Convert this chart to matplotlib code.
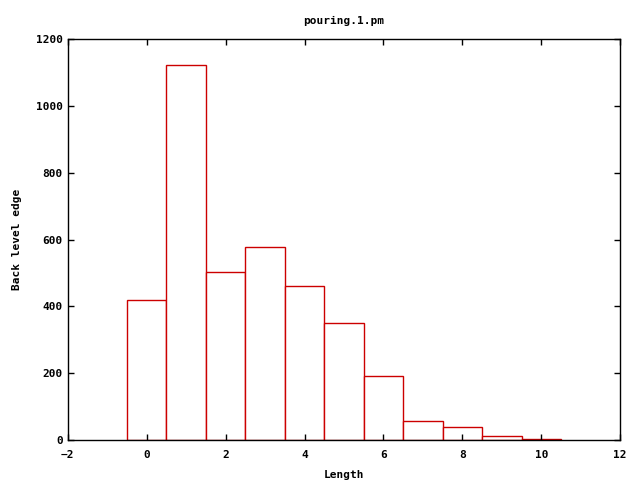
import numpy as np
import matplotlib.pyplot as plt

plt.rcParams['font.family'] = 'DejaVu Sans Mono'
plt.rcParams['font.weight'] = 'bold'
plt.rcParams['font.size'] = 8

lengths = [0, 1, 2, 3, 4, 5, 6, 7, 8, 9, 10]
counts = [419, 1121, 502, 579, 460, 350, 191, 57, 39, 11, 3]

fig = plt.figure(figsize=(6.4, 4.8), dpi=100)
ax = fig.add_axes([0.106, 0.083, 0.863, 0.836])
ax.bar(lengths, counts, width=1.0, facecolor='white', edgecolor='#cc0000', linewidth=1)

ax.set_xlim(-2, 12)
ax.set_ylim(0, 1200)
ax.set_xticks(np.arange(-2, 13, 2))
ax.set_yticks(np.arange(0, 1201, 200))
ax.tick_params(direction='in', top=True, right=True, length=4, width=1)
ax.tick_params(axis='x', pad=7)
for s in ax.spines.values():
    s.set_linewidth(1)
ax.set_title('pouring.1.pm', fontsize=8, fontweight='bold', pad=11)
ax.set_xlabel('Length', fontweight='bold', labelpad=7)
ax.set_ylabel('Back level edge', fontweight='bold', labelpad=10)

plt.savefig('out.png')
